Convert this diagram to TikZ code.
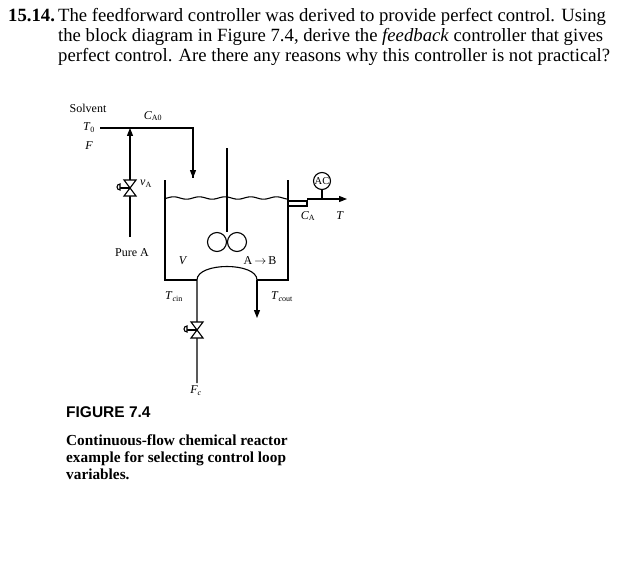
\documentclass[tikz,border=0pt]{standalone}
\usepackage{fontspec}
\setmainfont{Liberation Serif}
\newfontfamily\capsans{Liberation Sans}
\usetikzlibrary{arrows.meta}
\begin{document}
\begin{tikzpicture}[x=1pt,y=-1pt,
  pipe/.style={line width=1.1pt},
  flow/.style={pipe,-{Triangle[length=8pt,width=6pt]}},
  lbl/.style={inner sep=0pt,font=\fontsize{12}{14}\selectfont},
  txt/.style={inner sep=0pt,anchor=base west,font=\fontsize{18.7}{22}\selectfont},
  captxt/.style={inner sep=0pt,anchor=base west,font=\fontsize{15.3}{17}\selectfont\bfseries}]
\useasboundingbox (0,0) rectangle (617,564);
% header text
\node[txt] (n) at (8,22) {\textbf{15.14.}};
\node[txt] (l1) at (58,22) {The feedforward controller was derived to provide perfect control. Using};
\node[txt] (l2) at (58,42) {the block diagram in Figure 7.4, derive the \textit{feedback} controller that gives};
\node[txt] (l3) at (58,62) {perfect control. Are there any reasons why this controller is not practical?};
% labels
\node[lbl] (solv) at (88,108) {Solvent};
\node[lbl] (t0) at (89,128) {\textit{T}\textsubscript{0}};
\node[lbl] (f) at (89,146) {\textit{F}};
\node[lbl] (ca0) at (153,116) {\textit{C}\textsubscript{A0}};
\node[lbl] (pa) at (132,253) {Pure A};
\node[lbl] (va) at (146,184) {\textit{v}\textsubscript{A}};
\node[lbl] (V) at (183,261) {\textit{V}};
\node[lbl] (ab) at (260,261) {A$\,\rightarrow\,$B};
\node[lbl] (tcin) at (174,297) {\textit{T}\textsubscript{\textit{c}in}};
\node[lbl] (tcout) at (282,297) {\textit{T}\textsubscript{\textit{c}out}};
\node[lbl] (vc) at (208,330) {\textit{v}\textsubscript{\textit{c}}};
\node[lbl] (fc) at (196,391) {\textit{F}\textsubscript{\textit{c}}};
\node[lbl] (caL) at (308,216) {\textit{C}\textsubscript{A}};
\node[lbl] (tL) at (340,216) {\textit{T}};
\node[draw,circle,pipe,minimum size=17pt,inner sep=0pt,font=\fontsize{10.5}{12}\selectfont] (ac) at (322,181) {AC};
% coordinates
\coordinate (fs) at (100,128);
\coordinate (fj) at (130,128);
\coordinate (fc1) at (193,128);
\coordinate (fe) at (193,178);
\coordinate (pab) at (130,237);
% feed
\draw[pipe] (fs) -- (fc1) -- (fe);
\draw[flow] (fc1) -- (fe);
\draw[flow] (pab) -- (fj);
% valve A
\draw[pipe,fill=white] (124,180) -- (136,180) -- (124,196) -- (136,196) -- cycle;
\draw[pipe] (130,188) -- (120,188);
\draw[pipe,fill=white] (120,184) arc (90:270:3pt) -- cycle;
% tank
\draw[pipe] (165,180) -- (165,280) -- (288,280) -- (288,180);
\draw[pipe,domain=165:288,samples=80,smooth] plot (\x,{198+1.2*sin(\x*14)});
% outlet
\draw[pipe] (288,201) -- (307,201) -- (307,206) -- (288,206);
\draw[flow] (307,199) -- (347,199);
\draw[pipe] (ac.south) -- (322,199);
% agitator
\draw[pipe] (227,148) -- (227,232);
\draw[pipe] (217,242) circle (9.5pt) (237,242) circle (9.5pt);
% coil
\draw[pipe,fill=white] (197,383) -- (197,280) .. controls (197,262) and (257,262) .. (257,280);
\draw[flow] (257,280) -- (257,318);
% valve c
\draw[pipe,fill=white] (191,322) -- (203,322) -- (191,338) -- (203,338) -- cycle;
\draw[pipe] (197,330) -- (187,330);
\draw[pipe,fill=white] (187,326) arc (90:270:3pt) -- cycle;
% caption
\node[inner sep=0pt,anchor=base west,font=\fontsize{15.5}{17}\selectfont\capsans\bfseries] (fig) at (66,417) {FIGURE 7.4};
\node[captxt] (c1) at (66,445) {Continuous-flow chemical reactor};
\node[captxt] (c2) at (66,462) {example for selecting control loop};
\node[captxt] (c3) at (66,479) {variables.};
\end{tikzpicture}
\end{document}
